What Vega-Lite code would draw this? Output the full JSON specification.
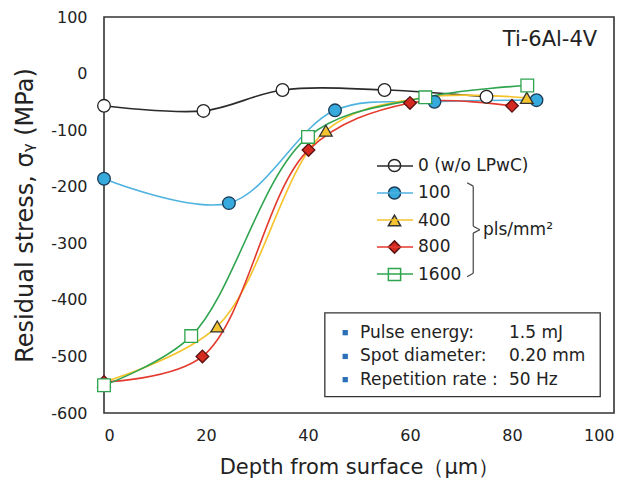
{
  "$schema": "https://vega.github.io/schema/vega-lite/v6.json",
  "width": 510,
  "height": 396,
  "autosize": {"type": "none"},
  "padding": {"left": 104, "top": 17, "right": 18, "bottom": 76},
  "background": "white",
  "config": {
    "font": "DejaVu Sans",
    "view": {"stroke": "#333", "strokeWidth": 1.6},
    "axis": {"gridColor": "#d6d6d6", "gridWidth": 1, "ticks": false, "domain": false, "labelFont": "DejaVu Sans", "labelFontSize": 16, "labelColor": "#222", "titleFont": "DejaVu Sans", "titleFontWeight": "normal", "titleColor": "#222"},
    "legend": {"labelFont": "DejaVu Sans", "labelFontSize": 17, "labelColor": "#222", "padding": 0}
  },
  "data": {
    "values": [
      {"series": "0 (w/o LPwC)", "depth": 0, "stress": -57},
      {"series": "0 (w/o LPwC)", "depth": 19.5, "stress": -66},
      {"series": "0 (w/o LPwC)", "depth": 35, "stress": -29},
      {"series": "0 (w/o LPwC)", "depth": 55, "stress": -29},
      {"series": "0 (w/o LPwC)", "depth": 75, "stress": -41},
      {"series": "100", "depth": 0, "stress": -186},
      {"series": "100", "depth": 24.5, "stress": -229},
      {"series": "100", "depth": 45.3, "stress": -65},
      {"series": "100", "depth": 64.8, "stress": -50},
      {"series": "100", "depth": 84.8, "stress": -47},
      {"series": "400", "depth": 0, "stress": -545},
      {"series": "400", "depth": 22.2, "stress": -447},
      {"series": "400", "depth": 43.5, "stress": -101},
      {"series": "400", "depth": 63, "stress": -42},
      {"series": "400", "depth": 82.9, "stress": -43},
      {"series": "800", "depth": 0, "stress": -545},
      {"series": "800", "depth": 19.3, "stress": -500},
      {"series": "800", "depth": 40.1, "stress": -135},
      {"series": "800", "depth": 60, "stress": -52},
      {"series": "800", "depth": 80, "stress": -57},
      {"series": "1600", "depth": 0, "stress": -551},
      {"series": "1600", "depth": 17.1, "stress": -464},
      {"series": "1600", "depth": 40, "stress": -112},
      {"series": "1600", "depth": 63, "stress": -42},
      {"series": "1600", "depth": 83, "stress": -21}
    ]
  },
  "layer": [
    {
      "data": {"values": [{}]},
      "mark": {"type": "rect", "fill": "white"},
      "encoding": {"x": {"datum": 52.5}, "x2": {"datum": 89.4}, "y": {"datum": -135}, "y2": {"datum": -368}}
    },
    {
      "mark": {"type": "line", "interpolate": "catmull-rom", "strokeWidth": 1.6},
      "encoding": {
        "x": {"field": "depth", "type": "quantitative", "scale": {"domain": [0, 100]}, "axis": {"values": [0, 20, 40, 60, 80, 100], "title": "Depth from surface（μm）", "labelPadding": 14, "titleFontSize": 21, "titleBaseline": "middle", "titleY": 54}},
        "y": {"field": "stress", "type": "quantitative", "scale": {"domain": [-600, 100]}, "axis": {"values": [-600, -500, -400, -300, -200, -100, 0, 100], "labelExpr": "datum.value < 0 ? '-' + abs(datum.value) : '' + datum.value", "title": "Residual stress, σᵧ (MPa)", "labelPadding": 17, "titleFontSize": 24, "titleBaseline": "middle", "titleX": -79}},
        "color": {"field": "series", "type": "nominal", "scale": {"domain": ["0 (w/o LPwC)", "100", "400", "800", "1600", " "], "range": ["#2b2b2b", "#4fb3e0", "#f5c22a", "#e43a2e", "#2ea44f", "transparent"]}, "legend": {"title": null, "orient": "none", "legendX": 272, "legendY": 130, "values": ["0 (w/o LPwC)", "100", "400", "800", "1600"], "labelExpr": "''", "labelOffset": 0, "rowPadding": -10.5, "symbolType": "stroke", "symbolSize": 1296, "symbolStrokeWidth": 1.6}},
        "detail": {"field": "series"}
      }
    },
    {
      "mark": {"type": "point", "filled": true, "strokeWidth": 1.3, "opacity": 1},
      "encoding": {
        "x": {"field": "depth", "type": "quantitative"},
        "y": {"field": "stress", "type": "quantitative"},
        "shape": {"field": "series", "type": "nominal", "scale": {"domain": ["0 (w/o LPwC)", "100", "400", "800", "1600"], "range": ["circle", "circle", "triangle-up", "diamond", "square"]}, "legend": {"title": null, "orient": "none", "legendX": 282, "legendY": 140, "labelOffset": 15, "rowPadding": 8.5, "symbolSize": 150}},
        "fill": {"field": "series", "type": "nominal", "scale": {"domain": ["0 (w/o LPwC)", "100", "400", "800", "1600"], "range": ["#ffffff", "#36a9dd", "#f4c430", "#d42a20", "#ffffff"]}, "legend": {"title": null, "orient": "none", "legendX": 282, "legendY": 140, "labelOffset": 15, "rowPadding": 8.5, "symbolSize": 150}},
        "stroke": {"field": "series", "type": "nominal", "scale": {"domain": ["0 (w/o LPwC)", "100", "400", "800", "1600"], "range": ["#222222", "#1d3a55", "#333333", "#5a1212", "#2ea44f"]}, "legend": {"title": null, "orient": "none", "legendX": 282, "legendY": 140, "labelOffset": 15, "rowPadding": 8.5, "symbolSize": 150}},
        "size": {"value": 160}
      }
    },
    {
      "data": {"values": [{}]},
      "mark": {"type": "rect", "fill": "white", "stroke": "#333", "strokeWidth": 1.3},
      "encoding": {"x": {"datum": 43.3}, "x2": {"datum": 97.3}, "y": {"datum": -423}, "y2": {"datum": -571}}
    },
    {
      "data": {"values": [{}]},
      "mark": {"type": "point", "shape": "square", "filled": true, "color": "#2a6fb8", "size": 28, "opacity": 1},
      "encoding": {"x": {"datum": 47.3}, "y": {"datum": -458}}
    },
    {
      "data": {"values": [{}]},
      "mark": {"type": "point", "shape": "square", "filled": true, "color": "#2a6fb8", "size": 28, "opacity": 1},
      "encoding": {"x": {"datum": 47.3}, "y": {"datum": -500}}
    },
    {
      "data": {"values": [{}]},
      "mark": {"type": "point", "shape": "square", "filled": true, "color": "#2a6fb8", "size": 28, "opacity": 1},
      "encoding": {"x": {"datum": 47.3}, "y": {"datum": -541}}
    },
    {
      "data": {"values": [{}]},
      "mark": {"type": "text", "align": "left", "baseline": "middle", "fontSize": 17, "color": "#222"},
      "encoding": {"x": {"datum": 50.2}, "y": {"datum": -458}, "text": {"value": "Pulse energy:"}}
    },
    {
      "data": {"values": [{}]},
      "mark": {"type": "text", "align": "left", "baseline": "middle", "fontSize": 17, "color": "#222"},
      "encoding": {"x": {"datum": 50.2}, "y": {"datum": -500}, "text": {"value": "Spot diameter:"}}
    },
    {
      "data": {"values": [{}]},
      "mark": {"type": "text", "align": "left", "baseline": "middle", "fontSize": 17, "color": "#222"},
      "encoding": {"x": {"datum": 50.2}, "y": {"datum": -541}, "text": {"value": "Repetition rate :"}}
    },
    {
      "data": {"values": [{}]},
      "mark": {"type": "text", "align": "left", "baseline": "middle", "fontSize": 17, "color": "#222"},
      "encoding": {"x": {"datum": 79.4}, "y": {"datum": -458}, "text": {"value": "1.5 mJ"}}
    },
    {
      "data": {"values": [{}]},
      "mark": {"type": "text", "align": "left", "baseline": "middle", "fontSize": 17, "color": "#222"},
      "encoding": {"x": {"datum": 79.4}, "y": {"datum": -500}, "text": {"value": "0.20 mm"}}
    },
    {
      "data": {"values": [{}]},
      "mark": {"type": "text", "align": "left", "baseline": "middle", "fontSize": 17, "color": "#222"},
      "encoding": {"x": {"datum": 79.4}, "y": {"datum": -541}, "text": {"value": "50 Hz"}}
    },
    {
      "data": {"values": [{}]},
      "mark": {"type": "text", "align": "right", "baseline": "middle", "fontSize": 21, "color": "#222"},
      "encoding": {"x": {"datum": 96.7}, "y": {"datum": 59}, "text": {"value": "Ti-6Al-4V"}}
    },
    {
      "data": {"values": [{}]},
      "mark": {"type": "rule", "stroke": "#444", "strokeWidth": 1.2},
      "encoding": {"x": {"datum": 71.2}, "y": {"datum": -193}, "x2": {"datum": 72.4}, "y2": {"datum": -199}}
    },
    {
      "data": {"values": [{}]},
      "mark": {"type": "rule", "stroke": "#444", "strokeWidth": 1.2},
      "encoding": {"x": {"datum": 72.4}, "y": {"datum": -199}, "y2": {"datum": -270}}
    },
    {
      "data": {"values": [{}]},
      "mark": {"type": "rule", "stroke": "#444", "strokeWidth": 1.2},
      "encoding": {"x": {"datum": 72.4}, "y": {"datum": -270}, "x2": {"datum": 73.7}, "y2": {"datum": -276}}
    },
    {
      "data": {"values": [{}]},
      "mark": {"type": "rule", "stroke": "#444", "strokeWidth": 1.2},
      "encoding": {"x": {"datum": 73.7}, "y": {"datum": -276}, "x2": {"datum": 72.4}, "y2": {"datum": -282}}
    },
    {
      "data": {"values": [{}]},
      "mark": {"type": "rule", "stroke": "#444", "strokeWidth": 1.2},
      "encoding": {"x": {"datum": 72.4}, "y": {"datum": -282}, "y2": {"datum": -353}}
    },
    {
      "data": {"values": [{}]},
      "mark": {"type": "rule", "stroke": "#444", "strokeWidth": 1.2},
      "encoding": {"x": {"datum": 72.4}, "y": {"datum": -353}, "x2": {"datum": 71.2}, "y2": {"datum": -359}}
    },
    {
      "data": {"values": [{}]},
      "mark": {"type": "text", "align": "left", "baseline": "middle", "fontSize": 17, "color": "#222"},
      "encoding": {"x": {"datum": 74.3}, "y": {"datum": -276}, "text": {"value": "pls/mm²"}}
    }
  ],
  "resolve": {"scale": {"color": "independent"}}
}
